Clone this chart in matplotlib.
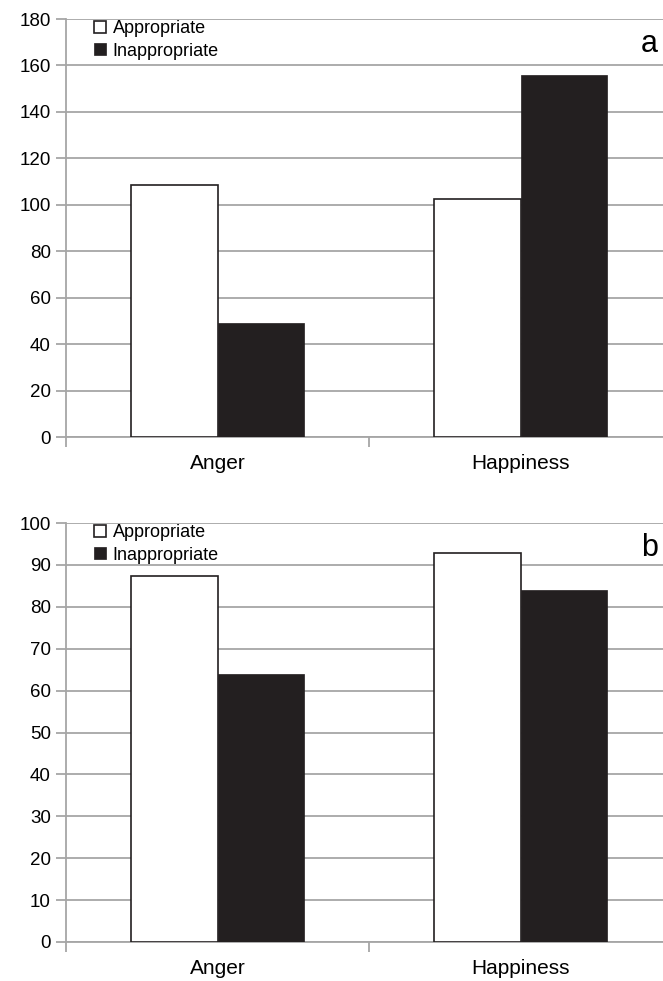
import numpy as np
import matplotlib
matplotlib.use("Agg")
import matplotlib.pyplot as plt

plt.rcParams['font.family'] = ['Liberation Sans', 'DejaVu Sans']

categories = ["Anger", "Happiness"]
series = ["Appropriate", "Inappropriate"]

# panel a
a_appropriate = [108.5, 102.6]
a_inappropriate = [49.1, 156.0]
# panel b
b_appropriate = [87.4, 92.8]
b_inappropriate = [64.0, 84.0]

panels = [
    ("a", a_appropriate, a_inappropriate, 180, 20),
    ("b", b_appropriate, b_inappropriate, 100, 10),
]

grid_color = "#a6a6a6"
dark = "#231f20"


def draw_panel(ax, letter, appr, inappr, ymax, step):
    x = np.arange(len(categories))
    w = 0.285
    ax.bar(x - w / 2, appr, w, color="white", edgecolor=dark, linewidth=1.2,
           label=series[0], zorder=3)
    ax.bar(x + w / 2, inappr, w, color=dark, edgecolor=dark, linewidth=0.5,
           label=series[1], zorder=3)

    ax.set_xlim(-0.5, 1.5)
    ax.set_ylim(0, ymax)
    ax.set_yticks(np.arange(0, ymax + 1, step))
    ax.yaxis.grid(True, color=grid_color, linewidth=1.3, zorder=0)
    ax.set_axisbelow(True)

    ax.set_xticks([-0.5, 0.5, 1.5])
    ax.set_xticklabels([])
    ax.set_xticks(x, minor=True)
    ax.set_xticklabels(categories, minor=True, fontsize=15)
    ax.tick_params(axis="x", which="minor", length=0, pad=12)
    ax.tick_params(axis="x", which="major", length=7, color=grid_color, width=1.3)
    ax.tick_params(axis="y", length=7, color=grid_color, width=1.3,
                   labelsize=13.5, pad=4)

    for s in ["top", "right"]:
        ax.spines[s].set_visible(False)
    for s in ["left", "bottom"]:
        ax.spines[s].set_color(grid_color)
        ax.spines[s].set_linewidth(1.3)

    ax.legend(loc="upper left", bbox_to_anchor=(0.047, 0.997), frameon=False,
              fontsize=13, handlelength=0.66, handleheight=0.66,
              handletextpad=0.35, labelspacing=0.3, borderaxespad=0,
              borderpad=0)
    ax.text(0.977, 0.941, letter, transform=ax.transAxes, ha="right",
            va="center", fontsize=22)


fig = plt.figure(figsize=(6.63, 9.81), dpi=100)
ax_a = fig.add_axes([66 / 663, 1 - 437 / 981, 606 / 663, 418 / 981])
ax_b = fig.add_axes([66 / 663, 1 - 942 / 981, 606 / 663, 419 / 981])

for ax, (letter, appr, inappr, ymax, step) in zip([ax_a, ax_b], panels):
    draw_panel(ax, letter, appr, inappr, ymax, step)

fig.savefig("out.png", dpi=100)
